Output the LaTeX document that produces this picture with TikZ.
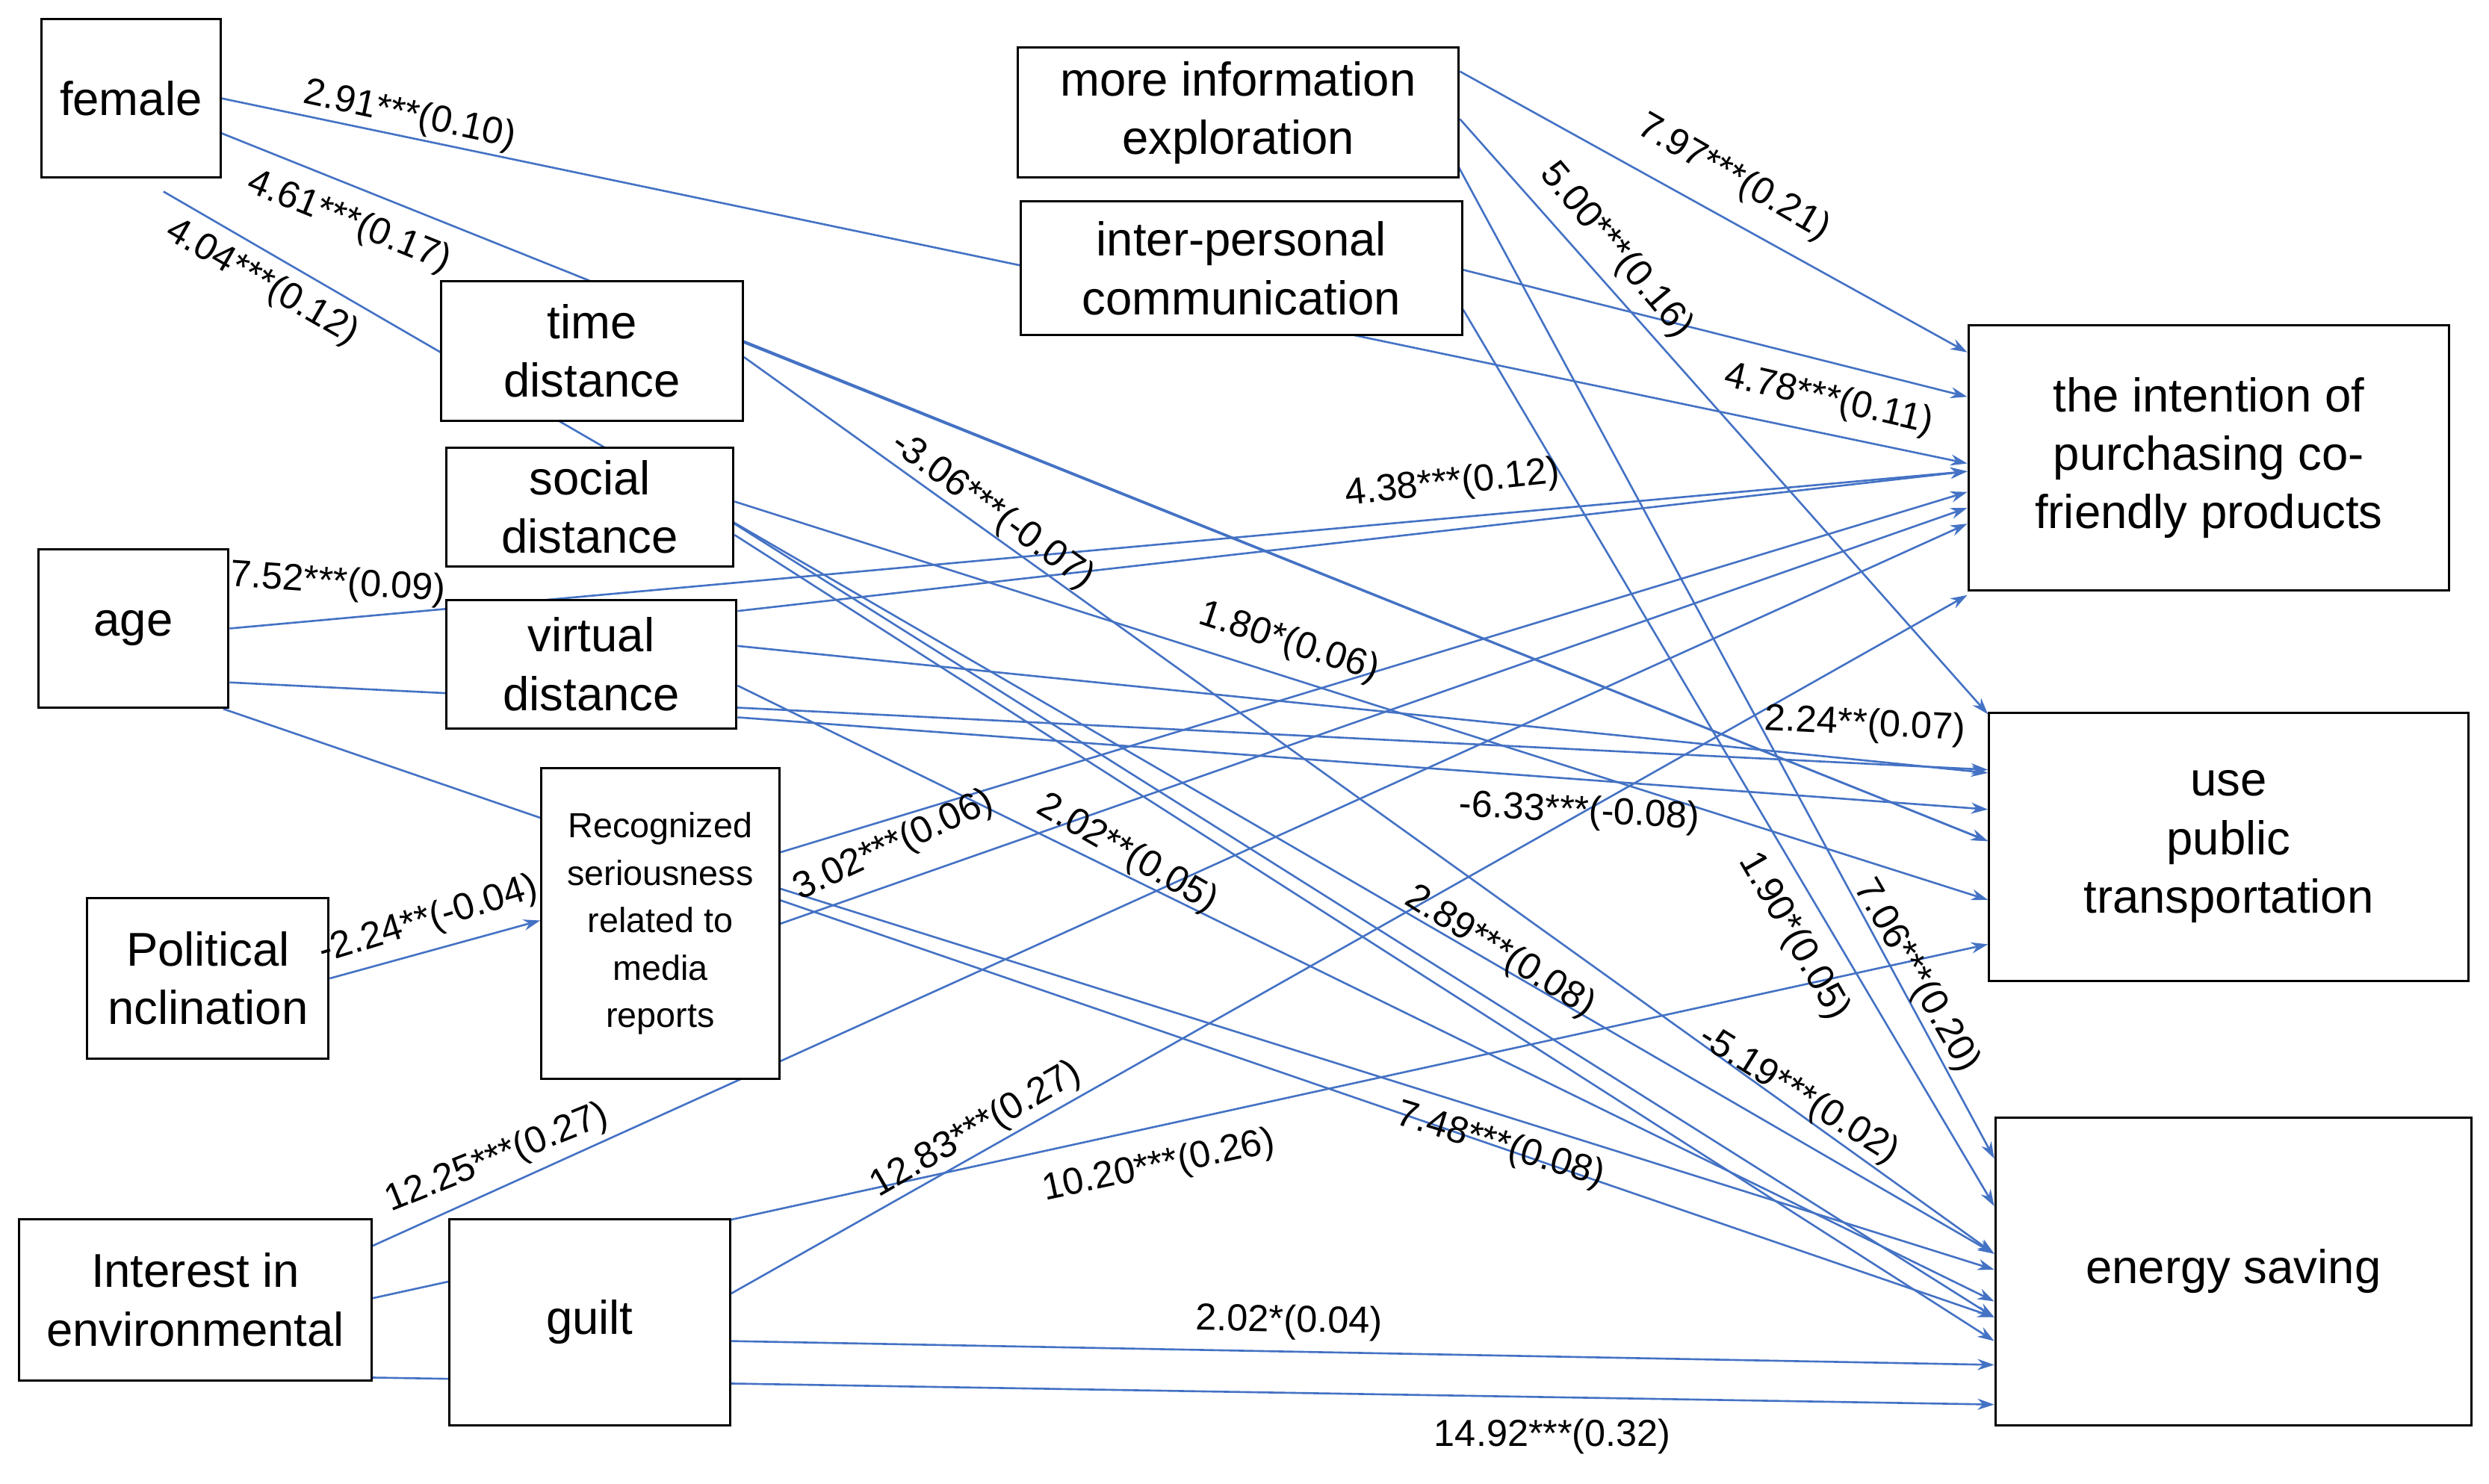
\documentclass[tikz,border=0pt]{standalone}
\usepackage{fontspec}
\setmainfont{Liberation Sans}
\usetikzlibrary{arrows.meta,backgrounds}
\definecolor{ln}{RGB}{68,114,196}
\begin{document}
\begin{tikzpicture}[x=0.02cm,y=-0.02cm,
 box/.style={draw=black,line width=0.8pt,fill=white,align=center,inner sep=1pt,font=\fontsize{17}{21}\selectfont},
 e/.style={draw=ln,line width=0.7pt,-{Stealth[length=6pt,width=4pt]}},
 lb/.style={font=\fontsize{13.5}{15}\selectfont,inner sep=0pt}]
\useasboundingbox (0,0) rectangle (1568,935);
\node[box,minimum width=2.26cm,minimum height=2cm] (female) at (82.5,62) {female};
\node[box,minimum width=5.56cm,minimum height=1.64cm] (info) at (780,71) {more information\\exploration};
\node[box,minimum width=5.56cm,minimum height=1.68cm] (inter) at (782,169) {inter-personal\\communication};
\node[box,minimum width=3.8cm,minimum height=1.76cm] (time) at (373,221) {time\\distance};
\node[box,minimum width=3.62cm,minimum height=1.5cm] (social) at (371.5,319.5) {social\\distance};
\node[box,minimum width=2.4cm,minimum height=2cm] (age) at (84,396) {age};
\node[box,minimum width=3.66cm,minimum height=1.62cm] (virtual) at (372.5,418.5) {virtual\\distance};
\node[box,minimum width=3cm,minimum height=3.92cm,font=\fontsize{12.5}{17}\selectfont] (recog) at (416,582) {Recognized\\seriousness\\related to\\media\\reports};
\node[box,minimum width=3.04cm,minimum height=2.02cm] (pol) at (131,616.5) {Political\\nclination};
\node[box,minimum width=4.44cm,minimum height=2.04cm] (interest) at (123,819) {Interest in\\environmental};
\node[box,minimum width=3.54cm,minimum height=2.6cm] (guilt) at (371.5,833) {guilt};
\node[box,minimum width=6.06cm,minimum height=3.34cm] (int) at (1391.5,288.5) {the intention of\\purchasing co-\\friendly products};
\node[box,minimum width=6.04cm,minimum height=3.38cm] (pub) at (1404,533.5) {use\\public\\transportation};
\node[box,minimum width=6cm,minimum height=3.88cm] (en) at (1407,801) {energy saving};
\begin{scope}[on background layer]
\draw[e] (female.east) -- ([yshift=-0.07cm]int.west);
\draw[e] ([yshift=-0.44cm]female.east) -- ([yshift=0.07cm]pub.west);
\draw[e] ([xshift=0.41cm,yshift=-0.16cm]female.south) -- ([yshift=0.22cm]en.west);
\draw[e] (age.east) -- ([yshift=-0.17cm]int.west);
\draw[e] ([yshift=-0.68cm]age.east) -- ([yshift=0.97cm]pub.west);
\draw[e] ([xshift=-0.08cm]age.south east) -- ([yshift=-0.58cm]en.west);
\draw[e] ([yshift=0.52cm]info.east) -- ([yshift=1.33cm]int.west);
\draw[e] ([yshift=-0.08cm]info.east) -- ([yshift=1.67cm]pub.west);
\draw[e] ([xshift=-0.18cm,yshift=-0.38cm]info.east) -- ([yshift=1.42cm]en.west);
\draw[e] ([yshift=-0.02cm]inter.east) -- ([yshift=0.77cm]int.west);
\draw[e] ([yshift=-0.52cm]inter.east) -- ([yshift=0.82cm]en.west);
\draw[e] ([yshift=0.12cm]time.east) -- ([yshift=0.07cm]pub.west);
\draw[e] ([yshift=-0.08cm]time.east) -- ([yshift=0.22cm]en.west);
\draw[e] ([yshift=0.07cm]social.east) -- ([yshift=-0.67cm]pub.west);
\draw[e] ([yshift=-0.21cm]social.east) -- ([yshift=-0.58cm]en.west);
\draw[e] ([yshift=-0.35cm]social.east) -- ([yshift=-0.88cm]en.west);
\draw[e] ([yshift=0.67cm]virtual.east) -- ([yshift=-0.17cm]int.west);
\draw[e] ([yshift=0.23cm]virtual.east) -- ([yshift=0.93cm]pub.west);
\draw[e] ([yshift=-0.67cm]virtual.east) -- ([yshift=0.47cm]pub.west);
\draw[e] ([yshift=-0.27cm]virtual.east) -- ([yshift=-0.38cm]en.west);
\draw[e] ([yshift=0.9cm]recog.east) -- ([yshift=-0.43cm]int.west);
\draw[e] ([yshift=0cm]recog.east) -- ([yshift=-0.63cm]int.west);
\draw[e] ([yshift=0.44cm]recog.east) -- ([yshift=0.02cm]en.west);
\draw[e] (pol.east) -- ([yshift=0.04cm]recog.west);
\draw[e] ([yshift=0.68cm]interest.east) -- ([yshift=-0.83cm]int.west);
\draw[e] ([yshift=0.02cm]interest.east) -- ([yshift=-1.23cm]pub.west);
\draw[e] ([yshift=0.36cm]guilt.east) -- ([yshift=-1.73cm]int.west);
\draw[e] ([yshift=-0.24cm]guilt.east) -- ([yshift=-1.18cm]en.west);
\draw[e] ([yshift=-0.98cm]interest.east) -- ([yshift=-1.68cm]en.west);
\end{scope}
\node[lb,rotate=-12] (l1) at (258,73) {2.91***(0.10)};
\node[lb,rotate=-22] (l2) at (220,140) {4.61***(0.17)};
\node[lb,rotate=-30] (l3) at (165,178) {4.04***(0.12)};
\node[lb,rotate=-4] (l4) at (213,368) {7.52***(0.09)};
\node[lb,rotate=-30] (l7) at (1092,112) {7.97***(0.21)};
\node[lb,rotate=-50] (l8) at (1018,158) {5.00***(0.16)};
\node[lb,rotate=-60] (l9) at (1207,615) {7.06***(0.20)};
\node[lb,rotate=-13] (l10) at (1152,252) {4.78***(0.11)};
\node[lb,rotate=-60] (l11) at (1130,590) {1.90*(0.05)};
\node[lb,rotate=-36] (l13) at (625,322) {-3.06***(-0.07)};
\node[lb,rotate=-18] (l14) at (812,405) {1.80*(0.06)};
\node[lb,rotate=-32] (l15) at (945,600) {2.89***(0.08)};
\node[lb,rotate=-32] (l16) at (1133,690) {-5.19***(0.02)};
\node[lb,rotate=6] (l17) at (915,305) {4.38***(0.12)};
\node[lb,rotate=-3] (l18) at (1175,457) {2.24**(0.07)};
\node[lb,rotate=-3] (l19) at (995,512) {-6.33***(-0.08)};
\node[lb,rotate=-30] (l20) at (710,538) {2.02**(0.05)};
\node[lb,rotate=25] (l21) at (563,533) {3.02***(0.06)};
\node[lb,rotate=-17] (l23) at (945,722) {7.48***(0.08)};
\node[lb,rotate=17] (l24) at (270,580) {-2.24**(-0.04)};
\node[lb,rotate=22] (l25) at (313,730) {12.25***(0.27)};
\node[lb,rotate=12] (l26) at (730,735) {10.20***(0.26)};
\node[lb,rotate=30] (l27) at (615,712) {12.83***(0.27)};
\node[lb,rotate=-1] (l28) at (812,833) {2.02*(0.04)};
\node[lb] (l29) at (978,905) {14.92***(0.32)};
\end{tikzpicture}
\end{document}
